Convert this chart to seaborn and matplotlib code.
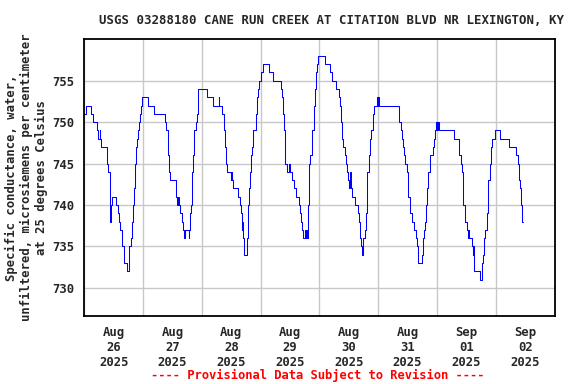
import numpy as np
import pandas as pd
import matplotlib
matplotlib.use("Agg")
import matplotlib.pyplot as plt
import matplotlib.dates as mdates
import seaborn as sns

TITLE = "USGS 03288180 CANE RUN CREEK AT CITATION BLVD NR LEXINGTON, KY"
YLABEL = "Specific conductance, water,\nunfiltered, microsiemens per centimeter\nat 25 degrees Celsius"
FOOTER = "---- Provisional Data Subject to Revision ----"
START = "2025-08-26 00:00"
END = "2025-09-03 00:00"
YTICKS = [730, 735, 740, 745, 750, 755]

# hours since Aug 26 00:00 (start of each step) and reading in uS/cm
HOURS = [0.0, 0.5, 2.6, 3.4, 5.1, 5.6, 6.2, 6.6, 7.0, 8.5, 9.2, 9.8, 10.3, 10.5, 10.8, 11.1,
         12.8, 13.6, 14.0, 14.6, 15.2, 15.5, 16.0, 16.2, 17.6, 18.1, 18.4, 18.9, 19.4, 19.6,
         20.0, 20.4, 20.8, 21.0, 21.3, 21.7, 21.9, 22.2, 22.8, 23.3, 23.7, 26.1, 28.6, 33.1,
         33.5, 34.0, 34.3, 34.6, 35.0, 37.3, 37.6, 37.9, 38.2, 38.6, 38.9, 39.9, 40.4, 40.9,
         41.1, 42.6, 42.9, 43.3, 43.5, 43.8, 44.0, 44.4, 44.8, 45.5, 45.9, 46.3, 46.6, 50.0,
         52.7, 54.8, 55.1, 56.4, 57.0, 57.5, 57.9, 58.4, 58.8, 59.7, 60.0, 60.3, 60.9, 62.9,
         63.6, 64.0, 64.3, 64.5, 64.9, 65.2, 65.4, 66.3, 66.7, 67.0, 67.3, 67.7, 68.1, 68.4,
         69.0, 70.0, 70.7, 71.1, 71.4, 72.1, 72.9, 75.6, 76.9, 80.2, 80.9, 81.2, 81.4, 81.8,
         82.1, 82.5, 82.9, 83.4, 83.8, 84.7, 85.6, 86.6, 87.8, 88.1, 88.4, 88.8, 89.1, 90.0,
         90.2, 90.6, 90.9, 91.2, 91.4, 91.8, 92.2, 92.9, 93.6, 94.0, 94.5, 95.1, 95.6, 98.3,
         100.4, 101.3, 102.7, 103.8, 104.5, 104.9, 105.3, 105.8, 106.5, 107.0, 107.4, 107.8,
         108.1, 108.4, 108.7, 109.4, 110.6, 111.6, 112.0, 112.4, 112.9, 113.5, 113.9, 114.5,
         115.1, 115.4, 115.6, 116.3, 116.7, 117.1, 117.7, 118.4, 119.6, 119.9, 120.1, 120.5,
         128.6, 129.5, 129.8, 130.3, 130.6, 131.0, 131.7, 132.0, 132.3, 133.1, 133.7, 134.8,
         135.4, 135.7, 136.1, 136.4, 137.8, 138.1, 138.5, 138.9, 139.2, 139.6, 140.1, 140.5,
         141.1, 142.2, 142.6, 143.0, 143.6, 143.8, 144.0, 144.4, 144.5, 145.0, 151.1, 152.8,
         153.2, 153.8, 154.2, 154.6, 154.8, 155.5, 156.2, 156.5, 156.7, 157.1, 158.3, 158.7,
         158.9, 159.3, 161.6, 162.2, 162.5, 163.0, 163.4, 163.7, 164.4, 164.8, 165.0, 165.5,
         166.0, 166.4, 167.8, 169.8, 173.5, 176.4, 176.9, 177.3, 178.0, 178.4, 178.9, 179.0]
VALUES = [751, 752, 751, 750, 749, 748, 749, 748, 747, 747, 745, 744, 743, 738, 740, 741,
          740, 739, 738, 737, 736, 735, 734, 733, 732, 733, 735, 736, 737, 738,
          740, 742, 745, 746, 747, 748, 749, 750, 751, 752, 753, 752, 751, 750,
          749, 748, 746, 744, 743, 742, 741, 740, 741, 740, 739, 738, 737, 736,
          737, 736, 737, 739, 740, 742, 744, 746, 749, 750, 751, 753, 754, 753,
          752, 753, 752, 751, 749, 747, 745, 744, 744, 743, 744, 743, 742, 741,
          740, 739, 737, 738, 736, 735, 734, 736, 738, 740, 742, 744, 746, 747,
          749, 751, 753, 754, 755, 756, 757, 756, 755, 754, 753, 751, 749, 747,
          745, 745, 744, 745, 744, 743, 742, 741, 740, 739, 738, 737, 736, 737,
          736, 737, 736, 738, 740, 745, 746, 749, 752, 754, 756, 757, 758, 757,
          756, 755, 754, 753, 752, 750, 748, 747, 746, 745, 744, 743,
          742, 744, 742, 741, 740, 739, 738, 736, 735, 734, 736, 737,
          739, 741, 744, 746, 748, 749, 751, 752, 753, 752, 753, 752,
          750, 749, 748, 747, 746, 745, 744, 742, 741, 739, 738, 737,
          736, 735, 734, 733, 734, 735, 736, 737, 738, 740, 742, 744,
          746, 747, 748, 749, 750, 749, 750, 749, 750, 749, 748, 747,
          746, 745, 744, 742, 740, 738, 737, 736, 737, 736, 735, 734,
          735, 732, 731, 732, 733, 734, 736, 737, 739, 742, 743, 745,
          747, 748, 749, 748, 747, 746, 745, 743, 742, 740, 738, 738]

df = pd.DataFrame({"time": pd.Timestamp(START) + pd.to_timedelta(HOURS, unit="h"),
                   "value": VALUES})

sns.set_style("white")
plt.rcParams["font.family"] = ["DejaVu Sans Mono"]
plt.rcParams["font.weight"] = "bold"

fig = plt.figure(figsize=(5.76, 3.84), dpi=100)
ax = fig.add_axes([0.1464, 0.1771, 0.8163, 0.7206])

sns.lineplot(data=df, x="time", y="value", ax=ax, color="#0000FF", linewidth=0.75,
             drawstyle="steps-post", estimator=None, sort=False)

ax.set_xlim(pd.Timestamp(START), pd.Timestamp(END))
ax.set_ylim(726.6, 760)
ax.set_yticks(YTICKS)
ax.xaxis.set_major_locator(mdates.DayLocator())
ax.xaxis.set_major_formatter(plt.NullFormatter())
ax.xaxis.set_minor_locator(mdates.HourLocator(byhour=12))
ax.xaxis.set_minor_formatter(mdates.DateFormatter("%b\n%d\n%Y"))
ax.grid(True, which="major", color="#C8C8C8", linewidth=1.0)
ax.tick_params(axis="both", which="both", length=0, labelsize=8.8, pad=7)
for lab in ax.get_xticklabels(minor=True) + ax.get_yticklabels():
    lab.set_fontweight("bold")
for s in ax.spines.values():
    s.set_color("black")
    s.set_linewidth(1.3)

ax.set_xlabel("")
ax.set_ylabel(YLABEL, fontsize=8.8, fontweight="bold", labelpad=3, linespacing=1.2)

fig.text(0.576, 1 - 20 / 384, TITLE, ha="center", va="center", fontsize=8.9, fontweight="bold")
fig.text(0.552, 1 - 375 / 384, FOOTER, ha="center", va="center", fontsize=8.7,
         fontweight="bold", color="#FF0000")

plt.savefig("out.png", dpi=100)
